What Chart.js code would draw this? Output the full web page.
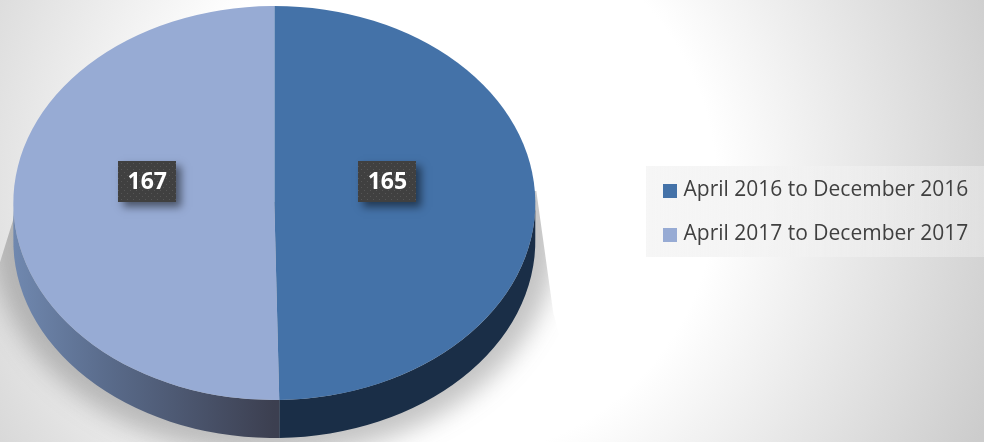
<!DOCTYPE html>
<html><head><meta charset="utf-8">
<script src="https://cdn.jsdelivr.net/npm/chart.js@4"></script>
<style>
html,body{margin:0;padding:0;width:984px;height:442px;overflow:hidden;}
body{background:radial-gradient(circle 590px at 445px 188px,#ffffff 0%,#ffffff 46%,#cccccc 100%);}
#wrap{position:absolute;left:0;top:0;width:984px;height:442px;}
</style></head><body>
<div id="wrap"><canvas id="c" width="984" height="442"></canvas></div>
<script>
const categories = ['April 2016 to December 2016', 'April 2017 to December 2017'];
const seriesValues = [165, 167];
const sliceColors = ['#4472A8', '#97ABD4'];

const H_STRETCH = 261 / 197, DEPTH = 38, LABEL_LIFT = 22;
const swatch = c => {
  const s = document.createElement('canvas'); s.width = s.height = 14;
  const x = s.getContext('2d'); x.fillStyle = c; x.fillRect(0, 0, 14, 14); return s;
};
const dots = (() => {
  const s = document.createElement('canvas'); s.width = s.height = 6;
  const x = s.getContext('2d'); x.fillStyle = '#404040'; x.fillRect(0, 0, 6, 6);
  x.fillStyle = '#565656'; x.fillRect(1, 1, 1, 1); x.fillRect(4, 4, 1, 1);
  return s;
})();

const pie3d = {
  id: 'pie3d',
  afterLayout(chart) {
    const l = chart.legend;
    const w = l.width;
    l.left = 644; l.right = l.left + w; l.top = 157; l.bottom = 442;
  },
  beforeDraw(chart) {
    const { ctx } = chart;
    ctx.save();
    const g = ctx.createLinearGradient(646, 0, 984, 0);
    g.addColorStop(0, 'rgba(246,246,246,1)');
    g.addColorStop(1, 'rgba(236,236,236,0.5)');
    ctx.fillStyle = g;
    ctx.fillRect(646, 166, 338, 91);
    ctx.restore();
  },
  beforeDatasetsDraw(chart) {
    const { ctx } = chart, arcs = chart.getDatasetMeta(0).data;
    const { x: cx, y: cy, outerRadius: r } = arcs[0];
    const rx = r * H_STRETCH;
    // soft shadow, cut by the slanted plane it falls on
    ctx.save();
    ctx.beginPath();
    ctx.moveTo(cx - rx + 2, cy + 10); ctx.lineTo(cx + rx + 1, cy - 12);
    ctx.lineTo(cx + rx + 18, cy + 110); ctx.lineTo(cx + rx + 60, 460);
    ctx.lineTo(-60, 460); ctx.lineTo(-8, cy + 85);
    ctx.closePath(); ctx.clip();
    ctx.filter = 'blur(12px)';
    ctx.fillStyle = 'rgba(70,70,70,0.32)';
    ctx.beginPath(); ctx.ellipse(cx, cy + 32, rx + 22, r + 24, 0, 0, Math.PI * 2); ctx.fill();
    ctx.restore();
    // side wall
    const wall = (a0, a1, fill) => {
      ctx.fillStyle = fill;
      ctx.beginPath();
      ctx.ellipse(cx, cy, rx, r, 0, a0, a1);
      ctx.ellipse(cx, cy + DEPTH, rx, r, 0, a1, a0, true);
      ctx.closePath(); ctx.fill();
    };
    const lo = Math.PI / 180;
    const endRight = arcs[0].endAngle;
    ctx.save();
    wall(-1 * lo, endRight, '#1A2E47');
    const g = ctx.createLinearGradient(cx - rx, 0, cx, 0);
    g.addColorStop(0, '#7088AF'); g.addColorStop(0.35, '#5A6C8C'); g.addColorStop(1, '#3C3F50');
    wall(endRight, Math.PI + lo, g);
    ctx.restore();
    // ellipse transform for the library's own arcs
    ctx.save();
    ctx.translate(cx, cy); ctx.scale(H_STRETCH, 1); ctx.translate(-cx, -cy);
  },
  afterDatasetsDraw(chart) {
    const { ctx } = chart, meta = chart.getDatasetMeta(0), arcs = meta.data;
    ctx.restore();
    const { x: cx, y: cy } = arcs[0];
    arcs.forEach((a, i) => {
      const p = a.getCenterPoint();
      const x = cx + (p.x - cx) * H_STRETCH * 0.92 - 7, y = cy - LABEL_LIFT;
      const text = String(seriesValues[i]);
      ctx.save();
      ctx.shadowColor = 'rgba(0,0,0,0.5)';
      ctx.shadowBlur = 8; ctx.shadowOffsetX = 5; ctx.shadowOffsetY = 5;
      ctx.fillStyle = '#404040';
      const bx = Math.round(x - 29), by = Math.round(y - 20.5);
      ctx.fillRect(bx, by, 58, 41);
      ctx.shadowColor = 'transparent';
      ctx.fillStyle = ctx.createPattern(dots, 'repeat');
      ctx.fillRect(bx, by, 58, 41);
      ctx.fillStyle = '#fff';
      ctx.font = 'bold 23px "Open Sans", sans-serif';
      ctx.textAlign = 'center'; ctx.textBaseline = 'middle';
      ctx.fillText(text, x, y + 1);
      ctx.restore();
    });
  }
};

new Chart(document.getElementById('c'), {
  type: 'pie',
  data: { labels: categories, datasets: [{ data: seriesValues, backgroundColor: sliceColors, borderWidth: 0 }] },
  options: {
    responsive: false, animation: false,
    layout: { padding: { left: 0, top: 6, bottom: 42, right: 101 } },
    plugins: {
      tooltip: { enabled: false },
      legend: {
        position: 'right',
        align: 'start',
        maxWidth: 436,
        labels: {
          usePointStyle: true, pointStyleWidth: 6,
          color: '#404040',
          font: { family: '"Open Sans", sans-serif', size: 21 },
          padding: 23,
          generateLabels(chart) {
            return Chart.overrides.pie.plugins.legend.labels.generateLabels(chart)
              .map((it, i) => ({ ...it, pointStyle: swatch(sliceColors[i]) }));
          }
        }
      }
    }
  },
  plugins: [pie3d]
});
</script>
</body></html>
